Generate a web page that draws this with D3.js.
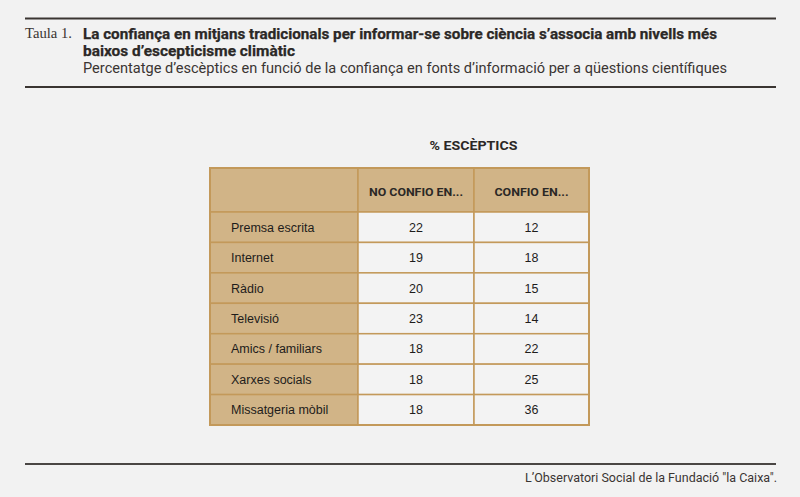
<!DOCTYPE html>
<html>
<head>
<meta charset="utf-8">
<script src="https://cdn.jsdelivr.net/npm/d3@7"></script>
<style>
  body { margin: 0; background: #f2f2f2; }
  svg { display: block; }
</style>
</head>
<body>
<div class="chart"></div>
<script>
const categories = ["Premsa escrita", "Internet", "Ràdio", "Televisió", "Amics / familiars", "Xarxes socials", "Missatgeria mòbil"];
const noConfio = [22, 19, 20, 23, 18, 18, 18];
const confio = [12, 18, 15, 14, 22, 25, 36];
const columns = ["", "NO CONFIO EN...", "CONFIO EN..."];

const width = 800, height = 497;
const sans = "Roboto, 'Liberation Sans', sans-serif";
const body = "'Liberation Sans', Arial, sans-serif";
const ink = "#2b2826";
const gold = "#c3995a";
const headFill = "#d1b487";

const svg = d3.select(".chart").append("svg")
    .attr("width", width)
    .attr("height", height)
    .attr("viewBox", [0, 0, width, height]);

svg.append("rect").attr("width", width).attr("height", height).attr("fill", "#f2f2f2");

// header rules
svg.append("line").attr("x1", 25).attr("x2", 776).attr("y1", 18.5).attr("y2", 18.5)
    .attr("stroke", "#3a3532").attr("stroke-width", 2);
svg.append("line").attr("x1", 25).attr("x2", 776).attr("y1", 87).attr("y2", 87)
    .attr("stroke", "#3a3532").attr("stroke-width", 2);

// fit a text to a given width
function fit(sel, w) {
    sel.attr("textLength", w).attr("lengthAdjust", "spacingAndGlyphs");
}

svg.append("text")
    .attr("x", 25).attr("y", 38)
    .attr("font-family", "'Liberation Serif', serif")
    .attr("font-size", 15)
    .attr("fill", "#3a3532")
    .text("Taula 1.")
    .call(fit, 47);

svg.append("text")
    .attr("x", 83).attr("y", 38.5)
    .attr("font-family", sans).attr("font-weight", "bold").attr("font-size", 14)
    .attr("fill", ink)
    .attr("stroke", ink).attr("stroke-width", 0.25)
    .text("La confiança en mitjans tradicionals per informar-se sobre ciència s’associa amb nivells més")
    .call(fit, 634);

svg.append("text")
    .attr("x", 83).attr("y", 55.5)
    .attr("font-family", sans).attr("font-weight", "bold").attr("font-size", 14)
    .attr("fill", ink)
    .attr("stroke", ink).attr("stroke-width", 0.25)
    .text("baixos d’escepticisme climàtic")
    .call(fit, 212);

svg.append("text")
    .attr("x", 83).attr("y", 72.5)
    .attr("font-family", sans).attr("font-size", 14)
    .attr("fill", "#3a3532")
    .text("Percentatge d’escèptics en funció de la confiança en fonts d’informació per a qüestions científiques")
    .call(fit, 644);

// table
const colEdges = [210, 358, 474, 589];
const headTop = 168, headBottom = 212, tableBottom = 425;

const yScale = d3.scaleBand()
    .domain(categories)
    .range([headBottom, tableBottom]);

const colX = i => colEdges[i];
const colW = i => colEdges[i + 1] - colEdges[i];

svg.append("text")
    .attr("x", (colEdges[1] + colEdges[3]) / 2).attr("y", 150)
    .attr("text-anchor", "middle")
    .attr("font-family", sans).attr("font-weight", "bold").attr("font-size", 12.5)
    .attr("fill", ink)
    .text("% ESCÈPTICS")
    .call(fit, 88);

const table = svg.append("g");

// header cells
table.selectAll("rect.head")
    .data(columns)
    .join("rect")
    .attr("class", "head")
    .attr("x", (d, i) => colX(i))
    .attr("y", headTop)
    .attr("width", (d, i) => colW(i))
    .attr("height", headBottom - headTop)
    .attr("fill", headFill)
    .attr("stroke", gold)
    .attr("stroke-width", 1.5);

const headWidths = [0, 94, 74];
table.selectAll("text.head")
    .data(columns)
    .join("text")
    .attr("class", "head")
    .attr("x", (d, i) => colX(i) + colW(i) / 2)
    .attr("y", 195.5)
    .attr("text-anchor", "middle")
    .attr("font-family", sans).attr("font-weight", "bold").attr("font-size", 11.5)
    .attr("fill", ink)
    .text(d => d)
    .each(function(d, i) { if (d) d3.select(this).call(fit, headWidths[i]); });

// body rows
const rows = table.selectAll("g.row")
    .data(categories)
    .join("g")
    .attr("class", "row")
    .attr("transform", d => `translate(0,${yScale(d)})`);

rows.append("rect")
    .attr("x", colX(0)).attr("width", colW(0))
    .attr("height", yScale.bandwidth())
    .attr("fill", headFill)
    .attr("stroke", gold).attr("stroke-width", 1.5);

[1, 2].forEach(c => {
    rows.append("rect")
        .attr("x", colX(c)).attr("width", colW(c))
        .attr("height", yScale.bandwidth())
        .attr("fill", "#f3f3f3")
        .attr("stroke", gold).attr("stroke-width", 1.5);
});

rows.append("text")
    .attr("x", 231)
    .attr("y", yScale.bandwidth() / 2)
    .attr("dy", "0.36em")
    .attr("font-family", body).attr("font-size", 12.5)
    .attr("fill", "#1e1c1b")
    .text(d => d);

rows.append("text")
    .attr("x", colX(1) + colW(1) / 2)
    .attr("y", yScale.bandwidth() / 2)
    .attr("dy", "0.36em")
    .attr("text-anchor", "middle")
    .attr("font-family", body).attr("font-size", 12.5)
    .attr("fill", "#1e1c1b")
    .text((d, i) => noConfio[i]);

rows.append("text")
    .attr("x", colX(2) + colW(2) / 2)
    .attr("y", yScale.bandwidth() / 2)
    .attr("dy", "0.36em")
    .attr("text-anchor", "middle")
    .attr("font-family", body).attr("font-size", 12.5)
    .attr("fill", "#1e1c1b")
    .text((d, i) => confio[i]);

// outer border
table.append("rect")
    .attr("x", colEdges[0]).attr("y", headTop)
    .attr("width", colEdges[3] - colEdges[0])
    .attr("height", tableBottom - headTop)
    .attr("fill", "none")
    .attr("stroke", gold).attr("stroke-width", 2);

// footer
svg.append("line").attr("x1", 25).attr("x2", 776).attr("y1", 464).attr("y2", 464)
    .attr("stroke", "#4a4644").attr("stroke-width", 2);

svg.append("text")
    .attr("x", 777).attr("y", 481.5)
    .attr("text-anchor", "end")
    .attr("font-family", sans).attr("font-size", 12.5)
    .attr("fill", "#3a3532")
    .text("L’Observatori Social de la Fundació \"la Caixa\".")
    .call(fit, 252);
</script>
</body>
</html>
